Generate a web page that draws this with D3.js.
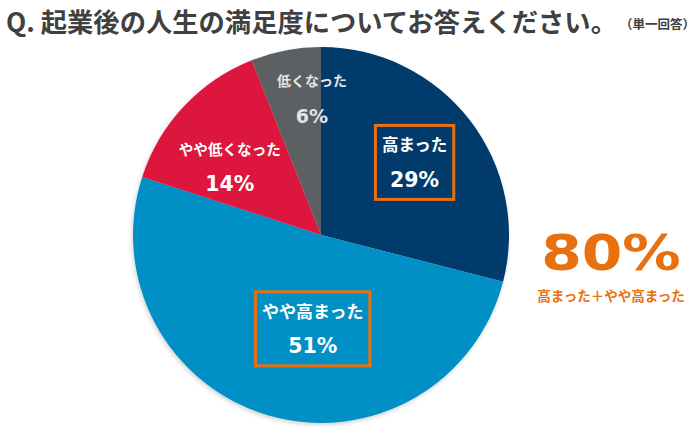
<!DOCTYPE html>
<html>
<head>
<meta charset="utf-8">
<script src="https://cdn.jsdelivr.net/npm/d3@7"></script>
<style>
  body { margin: 0; background: #fff; }
  svg { display: block; }
  .jp { font-family: "Noto Sans CJK JP", sans-serif; font-weight: bold; }
  .num { font-family: "DejaVu Sans", Verdana, sans-serif; font-weight: bold; }
</style>
</head>
<body>
<svg id="chart"></svg>
<script>
const categories = ['高まった', 'やや高まった', 'やや低くなった', '低くなった'];
const values = [29, 51, 14, 6];
const colors = ['#003a6c', '#0090c6', '#dc143c', '#5b6064'];
const highlighted = ['高まった', 'やや高まった'];

const width = 700, height = 427;
const cx = 321, cy = 235, radius = 188;

const svg = d3.select('#chart')
    .attr('width', width)
    .attr('height', height);

// title
svg.append('text')
    .attr('class', 'jp')
    .attr('x', 6).attr('y', 32)
    .attr('font-size', 26.3)
    .attr('fill', '#404040')
    .text('Q. 起業後の人生の満足度についてお答えください。');
svg.append('text')
    .attr('class', 'jp')
    .attr('x', 620).attr('y', 29)
    .attr('font-size', 12.5)
    .attr('fill', '#404040')
    .text('（単一回答）');

const defs = svg.append('defs');
const shadow = defs.append('filter').attr('id', 'shadow')
    .attr('x', '-10%').attr('y', '-10%').attr('width', '120%').attr('height', '120%');
shadow.append('feDropShadow')
    .attr('dx', -1).attr('dy', 2).attr('stdDeviation', 2)
    .attr('flood-color', '#000').attr('flood-opacity', 0.18);

const g = svg.append('g')
    .attr('transform', `translate(${cx}, ${cy})`);

const pie = d3.pie().sort(null).value(d => d[1]);
const data_ready = pie(categories.map((c, i) => [c, values[i]]));

const arcGenerator = d3.arc().innerRadius(0).outerRadius(radius);

g.append('g').attr('filter', 'url(#shadow)')
    .selectAll('path')
    .data(data_ready)
    .enter()
    .append('path')
    .attr('d', arcGenerator)
    .attr('fill', (d, i) => colors[i]);

// label placement: radius factor along the mid angle, plus a small nudge
const labelArc = [0.63, 0.52, 0.6, 0.74];
const labelNudge = [[0, 0], [19, 0], [-9, 9], [17, 0]];
const labelSize = [16.5, 17, 14.6, 14];
const labelFill = ['#fff', '#fff', '#fff', '#e4e4e4'];

const labels = g.selectAll('.lbl')
    .data(data_ready)
    .enter()
    .append('g')
    .attr('class', 'lbl')
    .attr('transform', (d, i) => {
        const a = (d.startAngle + d.endAngle) / 2;
        const r = radius * labelArc[i];
        return `translate(${Math.sin(a) * r + labelNudge[i][0]}, ${-Math.cos(a) * r + labelNudge[i][1]})`;
    });

labels.append('text')
    .attr('class', 'jp')
    .attr('text-anchor', 'middle')
    .attr('y', (d, i) => -17 + labelSize[i] * 0.36)
    .attr('font-size', (d, i) => labelSize[i])
    .attr('fill', (d, i) => labelFill[i])
    .text(d => d.data[0]);

labels.append('text')
    .attr('class', 'num')
    .attr('text-anchor', 'middle')
    .attr('y', 17 + 7.5)
    .attr('font-size', (d, i) => i === 3 ? 19 : 20.5)
    .attr('fill', (d, i) => labelFill[i])
    .text(d => d.data[1] + '%');

// orange boxes around highlighted categories
labels.filter(d => highlighted.includes(d.data[0]))
    .each(function() {
        const grp = d3.select(this);
        const w = grp.select('text.jp').node().getBBox().width + 13;
        grp.insert('rect', ':first-child')
            .attr('x', -w / 2)
            .attr('y', -37)
            .attr('width', w)
            .attr('height', 74)
            .attr('fill', 'none')
            .attr('stroke', '#e8700e')
            .attr('stroke-width', 3);
    });

// total of highlighted
const total = d3.sum(categories.map((c, i) => highlighted.includes(c) ? values[i] : 0));
svg.append('text')
    .attr('class', 'num')
    .attr('transform', 'translate(611, 270) scale(1.19, 1)')
    .attr('text-anchor', 'middle')
    .attr('font-size', 49)
    .attr('fill', '#e8700e')
    .text(total + '%');
svg.append('text')
    .attr('class', 'jp')
    .attr('x', 611).attr('y', 301)
    .attr('text-anchor', 'middle')
    .attr('font-size', 13.5)
    .attr('fill', '#e8700e')
    .text(highlighted.join('＋'));
</script>
</body>
</html>
